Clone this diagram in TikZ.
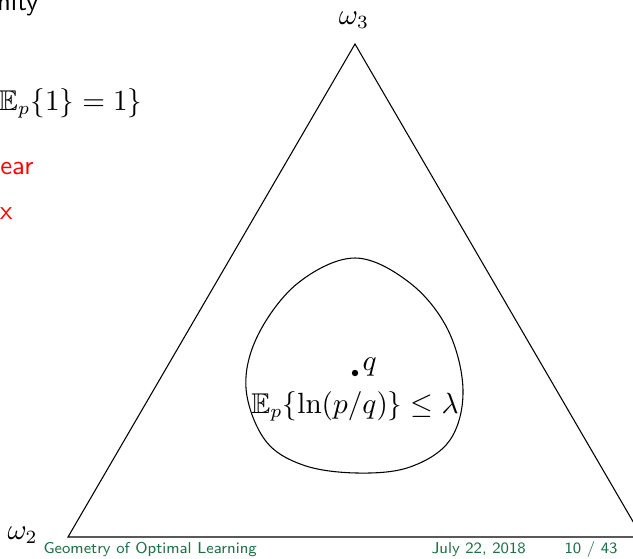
\documentclass[tikz,border=0pt]{standalone}
\usepackage{amsmath,amssymb}
\definecolor{footgreen}{RGB}{30,112,72}
\begin{document}
\begin{tikzpicture}[x=0.3745pt,y=-0.3745pt,
  bodytext/.style={inner sep=0pt,font=\sffamily},
  redtext/.style={bodytext,text=red},
  foottext/.style={inner sep=0pt,font=\sffamily\fontsize{5.9}{6.5}\selectfont,text=footgreen},
  mathlabel/.style={inner sep=0pt,font=\fontsize{10.7}{13}\selectfont},
  edge/.style={line width=0.4pt,black}]
\useasboundingbox (0,0) rectangle (633,558);
% left partial texts
\node[bodytext,anchor=base east] (t1) at (39,10) {nity};
\node[mathlabel,anchor=base east] (t2) at (143,110) {$\mathbb{E}_p\{1\}=1\}$};
\node[redtext,anchor=base east] (t3) at (34,174) {ear};
\node[redtext,anchor=base east] (t4) at (13,219) {x};
% triangle
\coordinate (w3) at (355,44);
\coordinate (w2) at (68,537);
\coordinate (w1) at (642,537);
\draw[edge] (w3) -- (w2) -- (w1) -- cycle;
\node[mathlabel,anchor=base] (l3) at (354,24) {$\omega_3$};
\node[mathlabel,anchor=base west] (l2) at (7,539) {$\omega_2$};
% blob
\draw[edge] plot[smooth cycle,tension=0.6] coordinates {
 (355,258) (410,283) (448,330) (463,390) (450,440) (410,467) (357,473)
 (303,465) (265,440) (246,388) (258,335) (298,283)};
\coordinate (q) at (355,373);
\fill (q) circle (3.2);
\node[mathlabel,anchor=base west] (ql) at (362,370) {$q$};
\node[mathlabel,anchor=base] (kl) at (355,413) {$\mathbb{E}_p\{\ln(p/q)\}\leq\lambda$};
% footer
\node[foottext,anchor=base west] (f1) at (43,553) {Geometry of Optimal Learning};
\node[foottext,anchor=base west] (f2) at (431,553) {July 22, 2018};
\node[foottext,anchor=base west] (f3) at (564,553) {10 / 43};
\end{tikzpicture}
\end{document}
